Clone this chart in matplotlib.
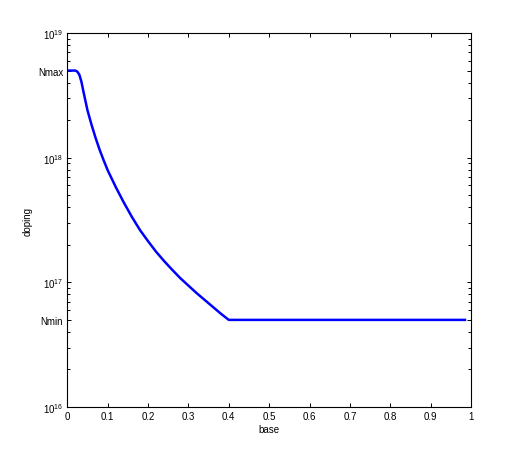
import matplotlib
matplotlib.use('Agg')
import matplotlib.pyplot as plt

plt.rcParams['font.family'] = ['Liberation Sans', 'DejaVu Sans']
plt.rcParams['mathtext.fontset'] = 'custom'
plt.rcParams['mathtext.rm'] = 'Liberation Sans'

# doping profile
base = [0.0, 0.010, 0.020, 0.025, 0.030, 0.035, 0.040, 0.050, 0.060, 0.070, 0.080, 0.090,
        0.100, 0.120, 0.140, 0.160, 0.180, 0.200, 0.220, 0.240, 0.260, 0.280, 0.300,
        0.320, 0.340, 0.360, 0.380, 0.400, 0.500, 0.600, 0.700, 0.800, 0.900, 0.985]
doping = [5.0e18, 5.0e18, 5.0e18, 4.90e18, 4.62e18, 4.07e18, 3.39e18, 2.40e18, 1.84e18, 1.445e18, 1.16e18, 9.55e17,
          7.94e17, 5.82e17, 4.37e17, 3.35e17, 2.63e17, 2.14e17, 1.76e17, 1.48e17, 1.26e17, 1.08e17, 9.42e16,
          8.22e16, 7.24e16, 6.38e16, 5.62e16, 5.0e16, 5.0e16, 5.0e16, 5.0e16, 5.0e16, 5.0e16, 5.0e16]

ytick_vals = [1e16, 5e16, 1e17, 1e18, 5e18, 1e19]
ytick_labels = [r'$\mathregular{10^{16}}$', 'Nmin', r'$\mathregular{10^{17}}$',
                r'$\mathregular{10^{18}}$', 'Nmax', r'$\mathregular{10^{19}}$']
xtick_vals = [0, 0.1, 0.2, 0.3, 0.4, 0.5, 0.6, 0.7, 0.8, 0.9, 1]
xtick_labels = ['0', '0.1', '0.2', '0.3', '0.4', '0.5', '0.6', '0.7', '0.8', '0.9', '1']

fig = plt.figure(figsize=(5.2, 4.6), dpi=100)
ax = fig.add_axes([0.1294, 0.113, 0.7764, 0.813])

ax.plot(base, doping, color='#0000ff', linewidth=1.8)

ax.set_yscale('log')
ax.set_xlim(0, 1)
ax.set_ylim(1e16, 1e19)
ax.set_xticks(xtick_vals)
ax.set_xticklabels(xtick_labels)
ax.set_yticks(ytick_vals)
ax.set_yticklabels(ytick_labels)

ax.tick_params(which='both', direction='in', top=True, right=True, labelsize=7, width=0.7, pad=3)
ax.tick_params(which='major', length=3)
ax.tick_params(which='minor', length=2)
for s in ax.spines.values():
    s.set_linewidth(0.8)

ax.set_xlabel('base', fontsize=7, labelpad=2)
ax.set_ylabel('doping', fontsize=7, labelpad=4)

fig.savefig('out.png', dpi=100)
